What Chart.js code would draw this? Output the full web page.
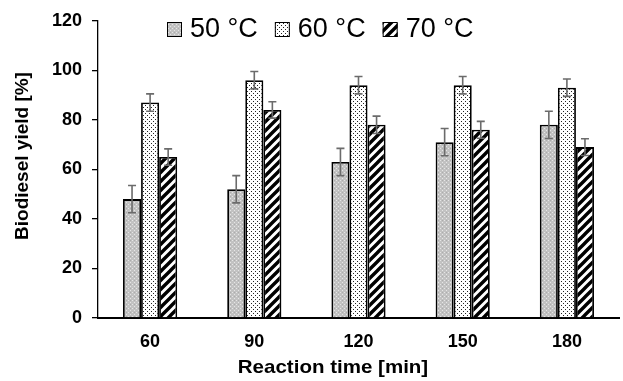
<!DOCTYPE html>
<html>
<head>
<meta charset="utf-8">
<script src="https://cdn.jsdelivr.net/npm/chart.js@4.4.1/dist/chart.umd.min.js"></script>
<style>
  html, body { margin: 0; padding: 0; background: #fff; }
  #wrap { width: 623px; height: 381px; position: relative; }
</style>
</head>
<body>
<div id="wrap"><canvas id="yieldChart"></canvas></div>
<script>
// data
const categories = ['60', '90', '120', '150', '180'];
const seriesLabels = ['50 °C', '60 °C', '70 °C'];
const yield50 = [48, 52, 63, 71, 78];
const yield60 = [87, 96, 94, 94, 93];
const yield70 = [65, 84, 78, 76, 69];
const err50 = [5.5, 5.5, 5.5, 5.5, 5.5];
const err60 = [3.5, 3.5, 3.5, 3.5, 3.5];
const err70 = [3.3, 3.3, 3.5, 3.4, 3.4];
const yTicks = [0, 20, 40, 60, 80, 100, 120];
const xTitle = 'Reaction time [min]';
const yTitle = 'Biodiesel yield [%]';

const FONT = "'Liberation Sans', Arial, sans-serif";

// fill patterns
function makePattern(size, drawFn){
  const c = document.createElement('canvas');
  c.width = size; c.height = size;
  const g = c.getContext('2d');
  drawFn(g, size);
  return document.getElementById('yieldChart').getContext('2d').createPattern(c, 'repeat');
}
const pat50 = makePattern(4, (g, s) => {
  g.fillStyle = '#c2c2c2'; g.fillRect(0, 0, s, s);
  g.fillStyle = '#e6e6e6'; g.fillRect(0, 0, 1, 1); g.fillRect(2, 2, 1, 1);
  g.fillStyle = '#acacac'; g.fillRect(2, 0, 1, 1);
});
const pat60 = makePattern(4, (g, s) => {
  g.fillStyle = '#fff'; g.fillRect(0, 0, s, s);
  g.fillStyle = '#222'; g.fillRect(1, 1, 1, 1); g.fillRect(3, 3, 1, 1);
});
const pat70 = makePattern(9, (g, s) => {
  g.fillStyle = '#fff'; g.fillRect(0, 0, s, s);
  g.strokeStyle = '#000'; g.lineWidth = 3.4;
  g.beginPath();
  g.moveTo(-2, s + 2); g.lineTo(s + 2, -2);
  g.moveTo(-2, 2); g.lineTo(2, -2);
  g.moveTo(s - 2, s + 2); g.lineTo(s + 2, s - 2);
  g.stroke();
});

const errors = [err50, err60, err70];

// error bars on top of the bars
const errorBars = {
  id: 'errorBars',
  afterDatasetsDraw(chart){
    const ctx = chart.ctx, y = chart.scales.y;
    ctx.save();
    ctx.strokeStyle = '#6b6b6b'; ctx.lineWidth = 1.6;
    chart.data.datasets.forEach((ds, di) => {
      const meta = chart.getDatasetMeta(di);
      meta.data.forEach((bar, i) => {
        const v = ds.data[i], e = errors[di][i];
        const yt = y.getPixelForValue(v + e), yb = y.getPixelForValue(v - e);
        ctx.beginPath();
        ctx.moveTo(bar.x, yt); ctx.lineTo(bar.x, yb);
        ctx.moveTo(bar.x - 4, yt); ctx.lineTo(bar.x + 4, yt);
        ctx.moveTo(bar.x - 4, yb); ctx.lineTo(bar.x + 4, yb);
        ctx.stroke();
      });
    });
    ctx.restore();
  }
};

// legend drawn inside the plot area, plus axis titles
const overlay = {
  id: 'overlay',
  afterDraw(chart){
    const ctx = chart.ctx;
    ctx.save();
    ctx.font = '27px ' + FONT;
    ctx.textBaseline = 'alphabetic';
    ctx.fillStyle = '#000';
    let x = 167;
    chart.data.datasets.forEach(ds => {
      ctx.fillStyle = ds.backgroundColor;
      ctx.fillRect(x, 22, 15, 15);
      ctx.strokeStyle = '#000'; ctx.lineWidth = 1;
      ctx.strokeRect(x + 0.5, 22.5, 14, 14);
      ctx.fillStyle = '#000';
      ctx.fillText(ds.label, x + 23, 37);
      x += 23 + ctx.measureText(ds.label).width + 17;
    });

    ctx.font = 'bold 19px ' + FONT;
    ctx.textAlign = 'center';
    ctx.save();
    ctx.translate(333, 373);
    ctx.scale(1.08, 1);
    ctx.fillText(xTitle, 0, 0);
    ctx.restore();

    ctx.save();
    ctx.translate(28, 156);
    ctx.rotate(-Math.PI / 2);
    ctx.fillText(yTitle, 0, 0);
    ctx.restore();
    ctx.restore();
  }
};

new Chart(document.getElementById('yieldChart'), {
  type: 'bar',
  data: {
    labels: categories,
    datasets: [
      { label: seriesLabels[0], data: yield50, backgroundColor: pat50 },
      { label: seriesLabels[1], data: yield60, backgroundColor: pat60 },
      { label: seriesLabels[2], data: yield70, backgroundColor: pat70 }
    ]
  },
  options: {
    responsive: true,
    maintainAspectRatio: false,
    animation: false,
    layout: { padding: { top: 13, right: 4, left: 0, bottom: 0 } },
    datasets: {
      bar: { borderColor: '#000', borderWidth: 1.8, categoryPercentage: 0.52, barPercentage: 1.0 }
    },
    plugins: {
      legend: { display: false },
      tooltip: { enabled: false }
    },
    scales: {
      x: {
        grid: { display: false, drawTicks: false },
        border: { color: '#000', width: 2 },
        ticks: { color: '#000', padding: 13, font: { family: FONT, size: 18, weight: 'bold' } },
        afterFit: s => { s.height = 63; }
      },
      y: {
        min: 0, max: 120,
        afterBuildTicks: s => { s.ticks = yTicks.map(v => ({ value: v })); },
        grid: { display: true, drawOnChartArea: false, drawTicks: true, tickLength: 6, color: '#000', lineWidth: 1.3 },
        border: { color: '#000', width: 1.3 },
        ticks: { color: '#000', padding: 10, font: { family: FONT, size: 18, weight: 'bold' } },
        afterFit: s => { s.width = 98; }
      }
    }
  },
  plugins: [errorBars, overlay]
});
</script>
</body>
</html>
